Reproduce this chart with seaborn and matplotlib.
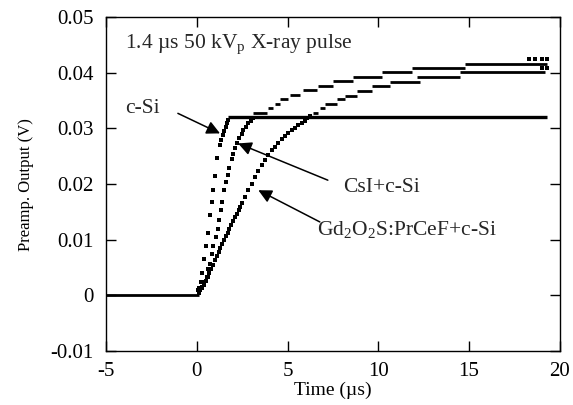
import pandas as pd
import matplotlib.pyplot as plt
import seaborn as sns

# Rising parts of the three pulses (time in us, output in V)
csi_si_t = [0.08, 0.14, 0.21, 0.30, 0.40, 0.51, 0.60, 0.73, 0.82, 0.91, 1.00,
            1.13, 1.28, 1.33, 1.43, 1.50, 1.61, 1.68, 1.73]
csi_si_v = [0.0009, 0.0014, 0.0024, 0.0040, 0.0065, 0.0088, 0.0112, 0.0144,
            0.0168, 0.0190, 0.0214, 0.0247, 0.0271, 0.0279, 0.0288, 0.0295,
            0.0303, 0.0309, 0.0315]

csi_t = [0.10, 0.20, 0.30, 0.41, 0.54, 0.63, 0.73, 0.82, 0.91, 1.04, 1.17,
         1.24, 1.33, 1.37, 1.50, 1.61, 1.70, 1.79, 1.92, 2.01, 2.12, 2.23,
         2.35, 2.47, 2.56, 2.70, 2.84, 2.96, 3.08]
csi_v = [0.0008, 0.0012, 0.0016, 0.0024, 0.0033, 0.0048, 0.0057, 0.0075,
         0.0088, 0.0105, 0.0120, 0.0136, 0.0153, 0.0168, 0.0189, 0.0204,
         0.0216, 0.0228, 0.0245, 0.0254, 0.0264, 0.0273, 0.0282, 0.0290,
         0.0297, 0.0303, 0.0309, 0.0314, 0.0318]

gd_t = [0.10, 0.20, 0.30, 0.40, 0.50, 0.60, 0.70, 0.80, 0.90, 1.00, 1.10,
        1.20, 1.30, 1.40, 1.50, 1.60, 1.70, 1.80, 1.90, 2.00, 2.10, 2.20,
        2.30, 2.40, 2.50, 2.65, 2.84, 3.02, 3.20, 3.39, 3.57, 3.76, 3.94,
        4.12, 4.31, 4.49, 4.67, 4.86, 5.04, 5.23, 5.41, 5.59, 5.78, 5.95,
        6.10, 6.25]
gd_v = [0.0005, 0.0009, 0.0013, 0.0019, 0.0026, 0.0033, 0.0040, 0.0048,
        0.0055, 0.0063, 0.0070, 0.0078, 0.0085, 0.0092, 0.0099, 0.0106,
        0.0113, 0.0120, 0.0127, 0.0133, 0.0140, 0.0146, 0.0153, 0.0159,
        0.0166, 0.0177, 0.0189, 0.0201, 0.0213, 0.0223, 0.0234, 0.0243,
        0.0252, 0.0261, 0.0267, 0.0274, 0.0281, 0.0287, 0.0292, 0.0297,
        0.0301, 0.0306, 0.0310, 0.0314, 0.0318, 0.0322]

# scattered samples at the very end of the record
tail_t = [18.30, 18.65, 19.00, 19.28, 19.00, 19.28]
tail_v = [0.0424, 0.0424, 0.0424, 0.0424, 0.0408, 0.0408]

# Flat (quantised) parts: level, start, end
base_v, base_t0, base_t1 = 0.0, -5.0, 0.12
si_flat_v, si_flat_t0, si_flat_t1 = 0.032, 1.73, 19.28

csi_step_v = [0.0327, 0.0336, 0.0343, 0.0352, 0.0360, 0.0369, 0.0376, 0.0385,
              0.0393, 0.0402, 0.0408, 0.0415]
csi_step_t0 = [3.11, 3.92, 4.31, 4.58, 5.13, 5.85, 6.67, 7.50, 8.60, 10.20, 11.85, 14.77]
csi_step_t1 = [3.87, 4.20, 4.58, 5.02, 5.68, 6.62, 7.50, 8.60, 10.20, 11.85, 14.77, 19.28]

gd_step_v = [0.0327, 0.0336, 0.0344, 0.0352, 0.0358, 0.0367, 0.0376, 0.0384,
             0.0392, 0.0401]
gd_step_t0 = [6.40, 6.78, 7.06, 7.72, 8.16, 8.82, 9.65, 10.64, 12.13, 14.49]
gd_step_t1 = [6.67, 7.06, 7.72, 8.16, 8.82, 9.65, 10.64, 12.29, 14.49, 19.20]

x_ticks = [-5, 0, 5, 10, 15, 20]
y_ticks = [-0.01, 0, 0.01, 0.02, 0.03, 0.04, 0.05]
y_labels = ['-0.01', '0', '0.01', '0.02', '0.03', '0.04', '0.05']

sns.set_theme(style='ticks')
plt.rcParams['font.family'] = ['Liberation Serif', 'DejaVu Serif']
plt.rcParams['mathtext.fontset'] = 'custom'
plt.rcParams['mathtext.rm'] = 'Liberation Serif'
plt.rcParams['axes.unicode_minus'] = False

dots = pd.DataFrame({
    't': csi_si_t + csi_t + gd_t + tail_t,
    'v': csi_si_v + csi_v + gd_v + tail_v,
})

fig = plt.figure(figsize=(5.73, 4.05), dpi=100)
ax = fig.add_axes([0.185, 0.133, 0.792, 0.825])

sns.scatterplot(data=dots, x='t', y='v', marker='s', s=9, color='black',
                linewidth=0, ax=ax)

ax.hlines(base_v, base_t0, base_t1, color='black', lw=2.0)
ax.hlines(si_flat_v, si_flat_t0, si_flat_t1, color='black', lw=2.4)
ax.hlines(csi_step_v, csi_step_t0, csi_step_t1, color='black', lw=2.0)
ax.hlines(gd_step_v, gd_step_t0, gd_step_t1, color='black', lw=2.0)

ax.set_xlim(-5, 20)
ax.set_ylim(-0.01, 0.05)
ax.set_xticks(x_ticks)
ax.set_xticklabels([str(t) for t in x_ticks])
ax.set_yticks(y_ticks)
ax.set_yticklabels(y_labels)
ax.tick_params(direction='in', length=7, width=1, labelsize=15,
               top=True, right=True, colors='black')
ax.tick_params(axis='x', pad=8)
ax.tick_params(axis='y', pad=9)
for s in ax.spines.values():
    s.set_linewidth(1)
    s.set_color('black')

ax.set_xlabel('Time (\u00b5s)', fontsize=14, labelpad=0, color='black')
ax.set_ylabel('Preamp. Output (V)', fontsize=12, labelpad=12, color='black')

ax.text(-3.95, 0.0444, '1.4 \u00b5s 50 kV$_\\mathregular{p}$ X-ray pulse',
        fontsize=15.5, va='baseline', ha='left')
ax.text(-3.95, 0.0327, 'c-Si', fontsize=15.5, va='baseline', ha='left')
ax.text(8.05, 0.0186, 'CsI+c-Si', fontsize=15.5, va='baseline', ha='left')
ax.text(6.6, 0.0108, 'Gd$_\\mathregular{2}$O$_\\mathregular{2}$S:PrCeF+c-Si',
        fontsize=15.5, va='baseline', ha='left')

arrow = dict(arrowstyle='-|>', color='black', lw=1.1, mutation_scale=20,
             shrinkA=0, shrinkB=0)
ax.annotate('', xy=(1.28, 0.0291), xytext=(-1.04, 0.0327), arrowprops=arrow)
ax.annotate('', xy=(2.28, 0.0273), xytext=(7.22, 0.0207), arrowprops=arrow)
ax.annotate('', xy=(3.39, 0.0189), xytext=(6.78, 0.0132), arrowprops=arrow)

plt.savefig('out.png', dpi=100)
